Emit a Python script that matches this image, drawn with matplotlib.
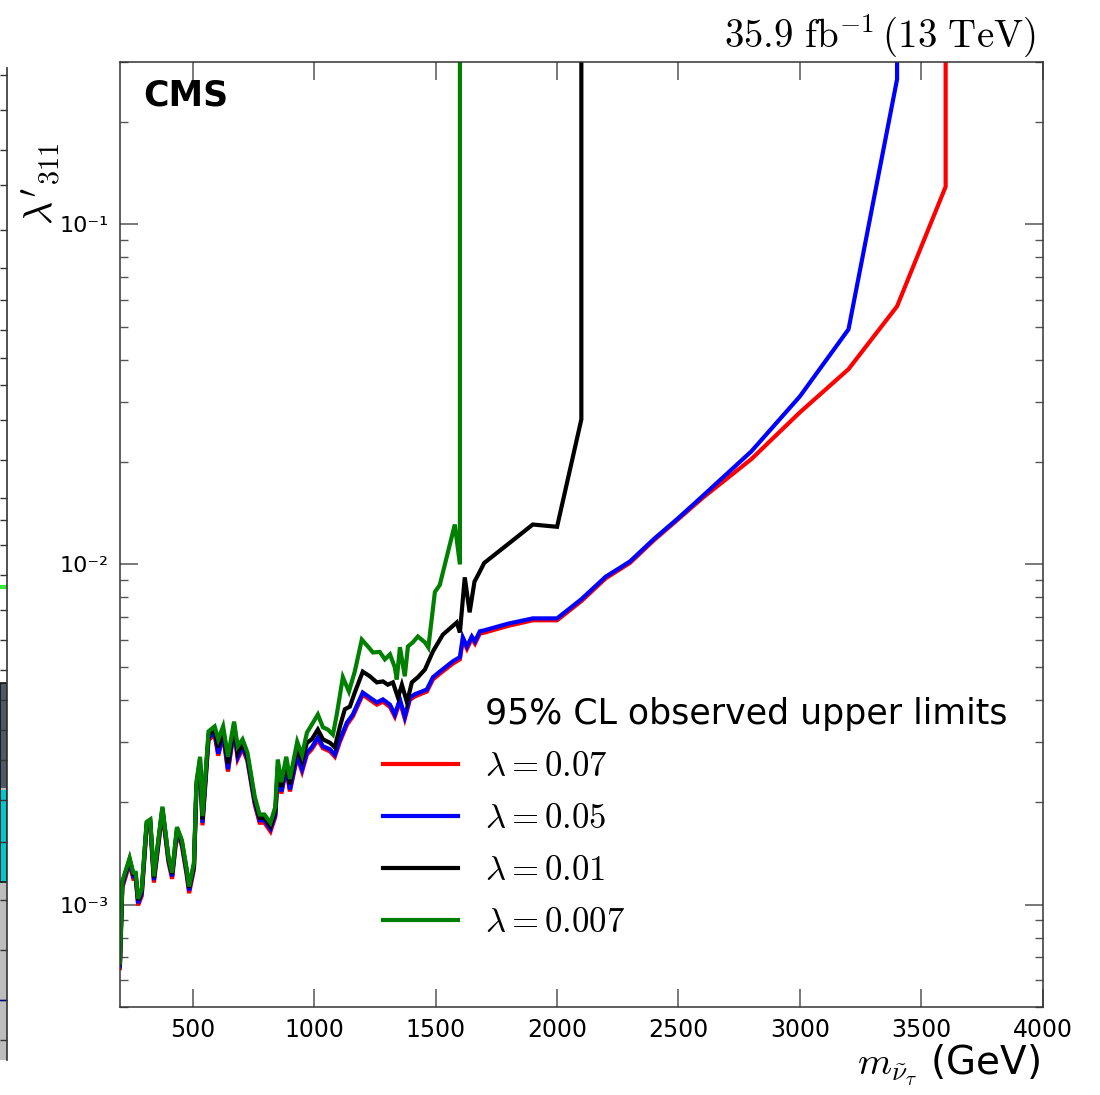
import matplotlib
matplotlib.use("Agg")
import matplotlib.pyplot as plt
from matplotlib.lines import Line2D
from matplotlib.patches import Rectangle
from matplotlib.ticker import FixedLocator, FixedFormatter, LogLocator, NullFormatter

plt.rcParams['mathtext.fontset'] = 'cm'
plt.rcParams['font.family'] = ['DejaVu Sans']

# ---------------- data ----------------
mass_low = [200, 210, 240, 255, 265, 275, 290, 310, 325, 340, 375, 400, 415, 435, 455, 475, 485,
            505, 515, 530, 540, 565, 590, 605, 625, 645, 670, 685, 705, 725, 755, 775, 795, 820,
            840, 850, 865, 885, 900, 930, 950, 970, 990]

green_low = [6.75e-4, 1.17e-3, 1.37e-3, 1.24e-3, 1.24e-3, 1.04e-3, 1.11e-3, 1.75e-3, 1.78e-3, 1.21e-3,
             1.94e-3, 1.38e-3, 1.24e-3, 1.69e-3, 1.55e-3, 1.27e-3, 1.13e-3, 1.33e-3, 2.29e-3, 2.72e-3,
             1.82e-3, 3.23e-3, 3.34e-3, 3.06e-3, 3.34e-3, 2.72e-3, 3.45e-3, 2.92e-3, 3.06e-3, 2.80e-3,
             2.08e-3, 1.84e-3, 1.84e-3, 1.74e-3, 1.94e-3, 2.67e-3, 2.29e-3, 2.72e-3, 2.34e-3, 3.01e-3,
             2.75e-3, 3.20e-3, 3.38e-3]
black_low = [6.70e-4, 1.16e-3, 1.36e-3, 1.23e-3, 1.23e-3, 1.03e-3, 1.10e-3, 1.73e-3, 1.76e-3, 1.20e-3,
             1.92e-3, 1.37e-3, 1.23e-3, 1.67e-3, 1.53e-3, 1.26e-3, 1.12e-3, 1.31e-3, 2.25e-3, 2.67e-3,
             1.78e-3, 3.16e-3, 3.27e-3, 2.90e-3, 3.27e-3, 2.60e-3, 3.38e-3, 2.80e-3, 2.99e-3, 2.74e-3,
             2.04e-3, 1.80e-3, 1.80e-3, 1.70e-3, 1.89e-3, 2.55e-3, 2.22e-3, 2.63e-3, 2.26e-3, 2.90e-3,
             2.65e-3, 2.99e-3, 3.06e-3]
blue_low = [6.60e-4, 1.14e-3, 1.34e-3, 1.21e-3, 1.21e-3, 1.01e-3, 1.08e-3, 1.71e-3, 1.74e-3, 1.18e-3,
            1.90e-3, 1.35e-3, 1.21e-3, 1.65e-3, 1.51e-3, 1.24e-3, 1.10e-3, 1.29e-3, 2.20e-3, 2.61e-3,
            1.74e-3, 3.10e-3, 3.20e-3, 2.78e-3, 3.20e-3, 2.50e-3, 3.30e-3, 2.72e-3, 2.92e-3, 2.68e-3,
            2.00e-3, 1.77e-3, 1.77e-3, 1.67e-3, 1.84e-3, 2.45e-3, 2.15e-3, 2.54e-3, 2.18e-3, 2.75e-3,
            2.50e-3, 2.80e-3, 2.90e-3]
red_low = [6.50e-4, 1.12e-3, 1.32e-3, 1.19e-3, 1.19e-3, 0.995e-3, 1.06e-3, 1.68e-3, 1.71e-3, 1.16e-3,
           1.87e-3, 1.33e-3, 1.19e-3, 1.62e-3, 1.49e-3, 1.22e-3, 1.08e-3, 1.27e-3, 2.17e-3, 2.57e-3,
           1.71e-3, 3.05e-3, 3.15e-3, 2.74e-3, 3.15e-3, 2.46e-3, 3.25e-3, 2.68e-3, 2.88e-3, 2.64e-3,
           1.97e-3, 1.74e-3, 1.74e-3, 1.64e-3, 1.81e-3, 2.41e-3, 2.12e-3, 2.50e-3, 2.15e-3, 2.71e-3,
           2.46e-3, 2.76e-3, 2.86e-3]

green_mass_up = [1015, 1036, 1056, 1077, 1093, 1118, 1143, 1167, 1196, 1221, 1242, 1270, 1291, 1312,
                 1332, 1340, 1353, 1373, 1386, 1406, 1427, 1456, 1470, 1497, 1517, 1579, 1600, 1600]
green_up = [3.62e-3, 3.32e-3, 3.27e-3, 3.16e-3, 3.62e-3, 4.66e-3, 4.23e-3, 4.84e-3, 6.01e-3, 5.74e-3,
            5.51e-3, 5.53e-3, 5.26e-3, 5.44e-3, 4.98e-3, 4.59e-3, 5.71e-3, 4.69e-3, 5.74e-3, 5.90e-3,
            6.14e-3, 5.90e-3, 5.70e-3, 8.30e-3, 8.70e-3, 1.31e-2, 1.00e-2, 1.0]

black_mass_up = [1015, 1036, 1065, 1085, 1106, 1126, 1147, 1167, 1200, 1229, 1258, 1283, 1303, 1324,
                 1345, 1361, 1382, 1402, 1427, 1456, 1489, 1530, 1587, 1600, 1620, 1640, 1660, 1680,
                 1700, 1800, 1900, 2000, 2100, 2100]
black_up = [3.27e-3, 3.06e-3, 2.99e-3, 2.90e-3, 3.34e-3, 3.75e-3, 3.82e-3, 4.20e-3, 4.84e-3, 4.69e-3,
            4.50e-3, 4.53e-3, 4.43e-3, 4.50e-3, 4.06e-3, 4.43e-3, 3.93e-3, 4.50e-3, 4.66e-3, 4.91e-3,
            5.55e-3, 6.22e-3, 6.75e-3, 6.31e-3, 9.16e-3, 7.23e-3, 8.90e-3, 9.47e-3, 1.01e-2, 1.15e-2,
            1.31e-2, 1.29e-2, 2.67e-2, 1.0]

blue_mass_up = [1015, 1036, 1065, 1085, 1106, 1135, 1159, 1200, 1229, 1258, 1283, 1312, 1332, 1353,
                1373, 1394, 1414, 1464, 1489, 1517, 1571, 1600, 1612, 1629, 1649, 1662, 1682, 1700,
                1800, 1900, 2000, 2100, 2200, 2300, 2400, 2500, 2600, 2800, 3000, 3200, 3400, 3400]
blue_up = [3.10e-3, 2.92e-3, 2.86e-3, 2.76e-3, 3.06e-3, 3.43e-3, 3.62e-3, 4.20e-3, 4.06e-3, 3.93e-3,
           4.01e-3, 3.87e-3, 3.62e-3, 4.01e-3, 3.57e-3, 4.06e-3, 4.15e-3, 4.29e-3, 4.66e-3, 4.84e-3,
           5.19e-3, 5.34e-3, 6.10e-3, 5.74e-3, 6.14e-3, 5.94e-3, 6.36e-3, 6.40e-3, 6.70e-3, 6.94e-3,
           6.94e-3, 7.90e-3, 9.20e-3, 1.02e-2, 1.19e-2, 1.37e-2, 1.59e-2, 2.15e-2, 3.12e-2, 4.91e-2,
           0.267, 1.0]

red_mass_up = blue_mass_up[:27] + [1700, 1800, 1900, 2000, 2100, 2200, 2300, 2400, 2500, 2600,
                                   2800, 3000, 3200, 3400, 3600, 3600]
red_up = [3.05e-3, 2.88e-3, 2.82e-3, 2.72e-3, 3.01e-3, 3.38e-3, 3.57e-3, 4.14e-3, 4.00e-3, 3.87e-3,
          3.95e-3, 3.81e-3, 3.57e-3, 3.95e-3, 3.52e-3, 4.00e-3, 4.09e-3, 4.23e-3, 4.59e-3, 4.77e-3,
          5.11e-3, 5.26e-3, 6.01e-3, 5.65e-3, 6.05e-3, 5.85e-3, 6.26e-3,
          6.30e-3, 6.60e-3, 6.85e-3, 6.85e-3, 7.80e-3, 9.10e-3, 1.01e-2, 1.18e-2, 1.36e-2, 1.57e-2,
          2.04e-2, 2.80e-2, 3.75e-2, 5.74e-2, 0.129, 1.0]

series_labels = [r'$\lambda=0.07$', r'$\lambda=0.05$', r'$\lambda=0.01$', r'$\lambda=0.007$']
series_colors = ['#ff0000', '#0000ff', '#000000', '#008000']
legend_title = '95% CL observed upper limits'

xticks = [500, 1000, 1500, 2000, 2500, 3000, 3500, 4000]
yticks = [1e-3, 1e-2, 1e-1]
ytick_labels = ['10\u207b\u00b3', '10\u207b\u00b2', '10\u207b\u00b9']

# ---------------- plot ----------------
fig = plt.figure(figsize=(11, 10.95), dpi=100)
ax = fig.add_axes([0.109, 0.0804, 0.839, 0.863])

series = [
    (mass_low + red_mass_up, red_low + red_up),
    (mass_low + blue_mass_up, blue_low + blue_up),
    (mass_low + black_mass_up, black_low + black_up),
    (mass_low + green_mass_up, green_low + green_up),
]
handles = []
for (mx, my), lab, col in zip(series, series_labels, series_colors):
    ln, = ax.plot(mx, my, color=col, lw=3.0, label=lab, solid_joinstyle='miter')
    handles.append(ln)

ax.set_yscale('log')
ax.set_xlim(200, 4000)
ax.set_ylim(5e-4, 0.3)

ax.xaxis.set_major_locator(FixedLocator(xticks))
ax.set_xticklabels([str(t) for t in xticks])
ax.yaxis.set_major_locator(FixedLocator(yticks))
ax.yaxis.set_major_formatter(FixedFormatter(ytick_labels))
ax.yaxis.set_minor_locator(LogLocator(base=10, subs=range(2, 10)))
ax.yaxis.set_minor_formatter(NullFormatter())

ax.tick_params(axis='both', which='both', direction='in', top=True, right=True,
               color='#555555')
ax.tick_params(axis='both', which='major', length=13, width=1.1)
ax.tick_params(axis='y', which='minor', length=6, width=1.0)
ax.tick_params(axis='x', which='major', labelsize=17, pad=8)
ax.tick_params(axis='y', which='major', labelsize=16, pad=8)
for sp in ax.spines.values():
    sp.set_color('#333333')
    sp.set_linewidth(1.1)

ax.text(0.025, 0.982, 'CMS', transform=ax.transAxes, fontsize=25, fontweight='bold',
        va='top', ha='left')

fig.text(1036 / 1100, 1 - 48 / 1095, r'$35.9\ \mathrm{fb}^{-1}\,(13\ \mathrm{TeV})$',
         ha='right', va='baseline', fontsize=28)
fig.text(1040 / 1100, 1 - 1065 / 1095, r'$m_{\tilde{\nu}_{\tau}}$ (GeV)',
         ha='right', va='center', fontsize=28)
fig.text(41 / 1100, 1 - 184 / 1095, r"$\lambda'_{311}$", rotation=90,
         ha='center', va='center', fontsize=29)

title_handle = Line2D([], [], color='none')
leg = ax.legend([title_handle] + handles, [legend_title] + series_labels,
                loc='upper left', bbox_to_anchor=(383 / 1100, 1 - 697 / 1095),
                bbox_transform=fig.transFigure, frameon=False, fontsize=25,
                handlelength=2.15, handletextpad=0.8, labelspacing=0.52,
                borderpad=0, borderaxespad=0)

# --- cropped edge of a neighbouring panel at the far left of the image ---
strip = fig.add_axes([0, 1 - 1060 / 1095, 7 / 1100, (1060 - 68) / 1095])
strip.set_xlim(0, 1)
strip.set_ylim(1060, 68)
strip.add_patch(Rectangle((0, 683), 1, 377, facecolor='#bdbdbd', edgecolor='none'))
strip.add_patch(Rectangle((0, 683), 1, 105, facecolor='#4d5a66', edgecolor='none'))
strip.add_patch(Rectangle((0, 790), 1, 92, facecolor='#00c8cc', edgecolor='none'))
strip.add_patch(Rectangle((0, 683), 0.95, 199, facecolor='none', edgecolor='#111111', lw=1.2))
strip.plot([0, 1], [587, 587], color='#33ee33', lw=3)
strip.plot([0, 1], [1000, 1000], color='#000080', lw=1)
strip_ticks = [75, 110, 150, 185, 230, 268, 300, 330, 358, 385, 420, 460, 498, 520, 545,
               575, 610, 640, 670, 700, 730, 760, 800, 842, 900, 950, 1000, 1040]
strip.set_yticks(strip_ticks)
strip.set_yticklabels([])
strip.set_xticks([])
strip.yaxis.tick_right()
strip.tick_params(axis='y', direction='in', length=5, width=1.0, color='#333333')
for k in ['left', 'top', 'bottom']:
    strip.spines[k].set_visible(False)
strip.spines['right'].set_color('#333333')
strip.spines['right'].set_linewidth(1.2)

fig.savefig('out.png', dpi=100)
